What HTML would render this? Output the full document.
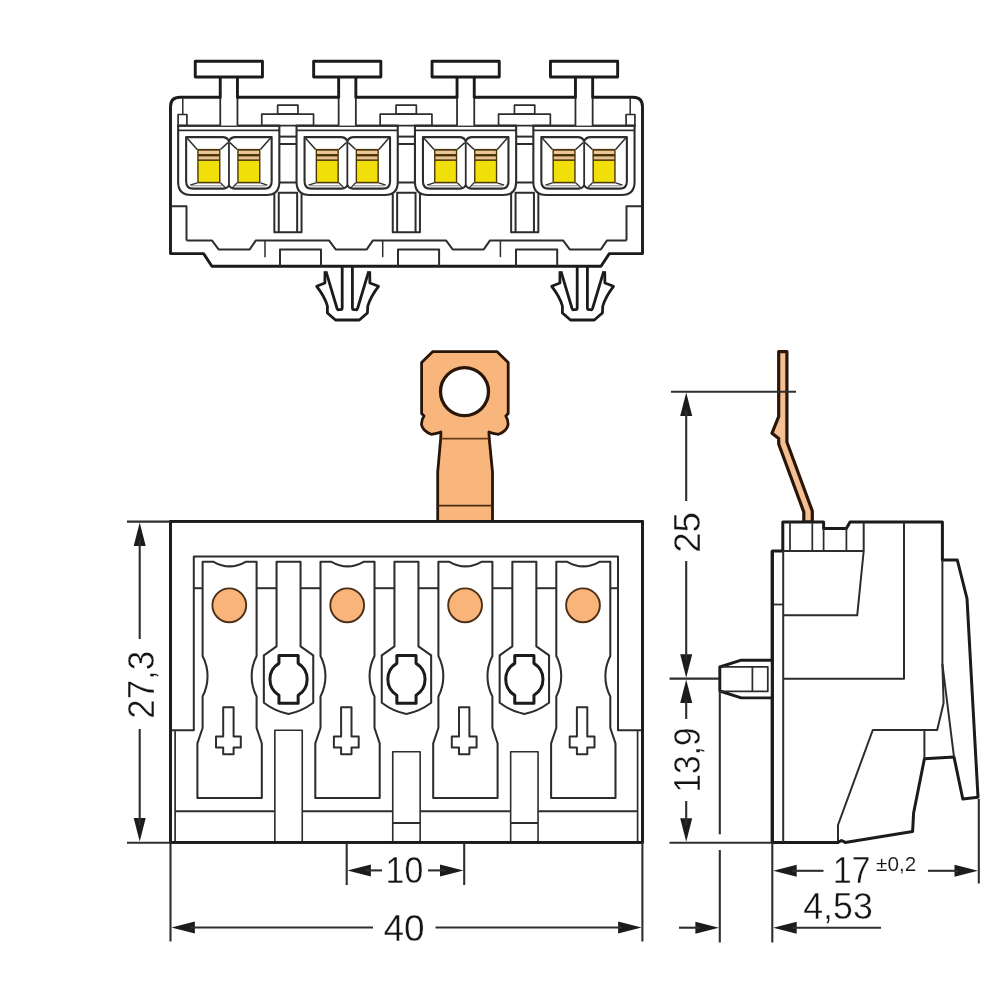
<!DOCTYPE html>
<html lang="en">
<head>
<meta charset="utf-8">
<title>Dimension drawing</title>
<style>
html,body{margin:0;padding:0;background:#fff;}
body{width:1000px;height:1000px;overflow:hidden;}
svg{display:block;}
svg text{font-family:"Liberation Sans",sans-serif;fill:#141414;paint-order:fill stroke;stroke-linejoin:round;}
svg path,svg rect,svg circle{stroke-linecap:butt;stroke-linejoin:round;}
</style>
</head>
<body>
<svg width="1000" height="1000" viewBox="0 0 1000 1000" role="img" aria-label="Dimension drawing of a 4-pole connector: 40 wide, 27,3 high, 17 ±0,2 deep">
<defs><filter id="soft" x="0" y="0" width="1000" height="1000" filterUnits="userSpaceOnUse" color-interpolation-filters="sRGB"><feGaussianBlur stdDeviation="0.45"/></filter></defs>
<rect x="0" y="0" width="1000" height="1000" fill="#ffffff" stroke="none"/>
<g filter="url(#soft)">
<rect x="0" y="0" width="1000" height="1000" fill="#ffffff" stroke="none"/>
<g id="top">
<path d="M170.5,253.6V106.8Q170.5,97.3 180,97.3H633Q642.5,97.3 642.5,106.8V253.6H609.3L601,266.3H211.9L203.6,253.6Z" fill="#fff" stroke="#1b1b1b" stroke-width="2.9"/>
<path d="M182.8,98.3L182.8,114.5" fill="none" stroke="#2d2d2d" stroke-width="1.5"/>
<rect x="178.1" y="114.5" width="8.8" height="11.2" fill="none" stroke="#2d2d2d" stroke-width="1.7"/>
<path d="M171.3,206.3L186.5,206.3L186.5,240.4" fill="none" stroke="#2d2d2d" stroke-width="2"/>
<path d="M630.2,98.3L630.2,114.5" fill="none" stroke="#2d2d2d" stroke-width="1.5"/>
<rect x="626.1" y="114.5" width="8.8" height="11.2" fill="none" stroke="#2d2d2d" stroke-width="1.7"/>
<path d="M641.7,206.3L626.5,206.3L626.5,240.4" fill="none" stroke="#2d2d2d" stroke-width="2"/>
<path d="M186.5,240.4H211.9L218.6,249.4H249.7L255.9,240.4H328.95L335.65,249.4H366.75L372.95,240.4H446L452.7,249.4H483.8L490,240.4H563.05L569.75,249.4H600.85L607.05,240.4H626.5" fill="none" stroke="#2d2d2d" stroke-width="2"/>
<path d="M265,240.4L265,257.2" fill="none" stroke="#2d2d2d" stroke-width="1.5"/>
<path d="M280,266.3L280,249.5L321,249.5L321,266.3" fill="none" stroke="#2d2d2d" stroke-width="2"/>
<path d="M274.35,189L274.35,232.3L301.55,232.3L301.55,189" fill="none" stroke="#2d2d2d" stroke-width="2"/>
<path d="M278.75,232.3L278.75,192.8L297.15,192.8L297.15,232.3" fill="none" stroke="#2d2d2d" stroke-width="2"/>
<rect x="277.65" y="105.2" width="20.3" height="9" fill="none" stroke="#2d2d2d" stroke-width="1.7"/>
<rect x="261.75" y="114.2" width="51.8" height="11.5" fill="none" stroke="#2d2d2d" stroke-width="1.7"/>
<path d="M279.45,136.6L296.45,136.6" fill="none" stroke="#2d2d2d" stroke-width="2"/>
<path d="M279.45,144L296.45,144" fill="none" stroke="#2d2d2d" stroke-width="2"/>
<path d="M279.45,182.5L296.45,182.5" fill="none" stroke="#2d2d2d" stroke-width="2"/>
<path d="M382.7,240.4L382.7,257.2" fill="none" stroke="#2d2d2d" stroke-width="1.5"/>
<path d="M398,266.3L398,249.5L439.1,249.5L439.1,266.3" fill="none" stroke="#2d2d2d" stroke-width="2"/>
<path d="M392.75,189L392.75,232.3L419.95,232.3L419.95,189" fill="none" stroke="#2d2d2d" stroke-width="2"/>
<path d="M397.15,232.3L397.15,192.8L415.55,192.8L415.55,232.3" fill="none" stroke="#2d2d2d" stroke-width="2"/>
<rect x="396.05" y="105.2" width="20.3" height="9" fill="none" stroke="#2d2d2d" stroke-width="1.7"/>
<rect x="380.15" y="114.2" width="51.8" height="11.5" fill="none" stroke="#2d2d2d" stroke-width="1.7"/>
<path d="M397.85,136.6L414.85,136.6" fill="none" stroke="#2d2d2d" stroke-width="2"/>
<path d="M397.85,144L414.85,144" fill="none" stroke="#2d2d2d" stroke-width="2"/>
<path d="M397.85,182.5L414.85,182.5" fill="none" stroke="#2d2d2d" stroke-width="2"/>
<path d="M500.4,240.4L500.4,257.2" fill="none" stroke="#2d2d2d" stroke-width="1.5"/>
<path d="M516,266.3L516,249.5L557.2,249.5L557.2,266.3" fill="none" stroke="#2d2d2d" stroke-width="2"/>
<path d="M511.15,189L511.15,232.3L538.35,232.3L538.35,189" fill="none" stroke="#2d2d2d" stroke-width="2"/>
<path d="M515.55,232.3L515.55,192.8L533.95,192.8L533.95,232.3" fill="none" stroke="#2d2d2d" stroke-width="2"/>
<rect x="514.45" y="105.2" width="20.3" height="9" fill="none" stroke="#2d2d2d" stroke-width="1.7"/>
<rect x="498.55" y="114.2" width="51.8" height="11.5" fill="none" stroke="#2d2d2d" stroke-width="1.7"/>
<path d="M516.25,136.6L533.25,136.6" fill="none" stroke="#2d2d2d" stroke-width="2"/>
<path d="M516.25,144L533.25,144" fill="none" stroke="#2d2d2d" stroke-width="2"/>
<path d="M516.25,182.5L533.25,182.5" fill="none" stroke="#2d2d2d" stroke-width="2"/>
<path d="M178.15,125.8V182Q178.15,195 191.15,195H266.35Q279.35,195 279.35,182V125.8Z" fill="#fff" stroke="#2d2d2d" stroke-width="2.1"/>
<path d="M177.25,125.8L280.25,125.8" fill="none" stroke="#2d2d2d" stroke-width="2.1"/>
<path d="M178.15,130.3L279.35,130.3" fill="none" stroke="#2d2d2d" stroke-width="1.7"/>
<path d="M228.95,141.6Q227.95,137.6 223.25,137.1H186.15V181.5Q186.15,188.6 193.25,188.6H223.25Q227.95,188.2 228.95,185" fill="none" stroke="#2d2d2d" stroke-width="2.1"/>
<path d="M228.95,141.6Q229.95,137.6 234.65,137.1H271.65V181.5Q271.65,188.6 264.55,188.6H234.65Q229.95,188.2 228.95,185" fill="none" stroke="#2d2d2d" stroke-width="2.1"/>
<path d="M228.95,141L228.95,186" fill="none" stroke="#2d2d2d" stroke-width="1.8"/>
<rect x="197.25" y="148.9" width="23.2" height="34.5" fill="#4b3608"/>
<rect x="198.65" y="160.9" width="20.4" height="20.9" fill="#f0df09"/>
<rect x="198.65" y="150.7" width="20.4" height="3.3" fill="#ebc69b"/>
<rect x="198.65" y="156.4" width="20.4" height="3" fill="#e8c194"/>
<path d="M186.95,138L197.25,149.5" fill="none" stroke="#2d2d2d" stroke-width="1.5"/>
<path d="M227.95,142.6L220.45,149.5" fill="none" stroke="#2d2d2d" stroke-width="1.5"/>
<path d="M197.25,182.8L190.15,185.2" fill="none" stroke="#2d2d2d" stroke-width="1.3"/>
<path d="M220.45,182.8L225.35,187.6" fill="none" stroke="#2d2d2d" stroke-width="1.3"/>
<path d="M191.25,185.8L222.25,185.8" fill="none" stroke="#777" stroke-width="0.9"/>
<rect x="237.25" y="148.9" width="23.2" height="34.5" fill="#4b3608"/>
<rect x="238.65" y="160.9" width="20.4" height="20.9" fill="#f0df09"/>
<rect x="238.65" y="150.7" width="20.4" height="3.3" fill="#ebc69b"/>
<rect x="238.65" y="156.4" width="20.4" height="3" fill="#e8c194"/>
<path d="M270.55,138L260.45,149.5" fill="none" stroke="#2d2d2d" stroke-width="1.5"/>
<path d="M229.95,142.6L237.25,149.5" fill="none" stroke="#2d2d2d" stroke-width="1.5"/>
<path d="M260.45,182.8L267.35,185.2" fill="none" stroke="#2d2d2d" stroke-width="1.3"/>
<path d="M237.25,182.8L232.55,187.6" fill="none" stroke="#2d2d2d" stroke-width="1.3"/>
<path d="M266.25,185.8L235.25,185.8" fill="none" stroke="#777" stroke-width="0.9"/>
<path d="M296.55,125.8V182Q296.55,195 309.55,195H384.75Q397.75,195 397.75,182V125.8Z" fill="#fff" stroke="#2d2d2d" stroke-width="2.1"/>
<path d="M295.65,125.8L398.65,125.8" fill="none" stroke="#2d2d2d" stroke-width="2.1"/>
<path d="M296.55,130.3L397.75,130.3" fill="none" stroke="#2d2d2d" stroke-width="1.7"/>
<path d="M347.35,141.6Q346.35,137.6 341.65,137.1H304.55V181.5Q304.55,188.6 311.65,188.6H341.65Q346.35,188.2 347.35,185" fill="none" stroke="#2d2d2d" stroke-width="2.1"/>
<path d="M347.35,141.6Q348.35,137.6 353.05,137.1H390.05V181.5Q390.05,188.6 382.95,188.6H353.05Q348.35,188.2 347.35,185" fill="none" stroke="#2d2d2d" stroke-width="2.1"/>
<path d="M347.35,141L347.35,186" fill="none" stroke="#2d2d2d" stroke-width="1.8"/>
<rect x="315.65" y="148.9" width="23.2" height="34.5" fill="#4b3608"/>
<rect x="317.05" y="160.9" width="20.4" height="20.9" fill="#f0df09"/>
<rect x="317.05" y="150.7" width="20.4" height="3.3" fill="#ebc69b"/>
<rect x="317.05" y="156.4" width="20.4" height="3" fill="#e8c194"/>
<path d="M305.35,138L315.65,149.5" fill="none" stroke="#2d2d2d" stroke-width="1.5"/>
<path d="M346.35,142.6L338.85,149.5" fill="none" stroke="#2d2d2d" stroke-width="1.5"/>
<path d="M315.65,182.8L308.55,185.2" fill="none" stroke="#2d2d2d" stroke-width="1.3"/>
<path d="M338.85,182.8L343.75,187.6" fill="none" stroke="#2d2d2d" stroke-width="1.3"/>
<path d="M309.65,185.8L340.65,185.8" fill="none" stroke="#777" stroke-width="0.9"/>
<rect x="355.65" y="148.9" width="23.2" height="34.5" fill="#4b3608"/>
<rect x="357.05" y="160.9" width="20.4" height="20.9" fill="#f0df09"/>
<rect x="357.05" y="150.7" width="20.4" height="3.3" fill="#ebc69b"/>
<rect x="357.05" y="156.4" width="20.4" height="3" fill="#e8c194"/>
<path d="M388.95,138L378.85,149.5" fill="none" stroke="#2d2d2d" stroke-width="1.5"/>
<path d="M348.35,142.6L355.65,149.5" fill="none" stroke="#2d2d2d" stroke-width="1.5"/>
<path d="M378.85,182.8L385.75,185.2" fill="none" stroke="#2d2d2d" stroke-width="1.3"/>
<path d="M355.65,182.8L350.95,187.6" fill="none" stroke="#2d2d2d" stroke-width="1.3"/>
<path d="M384.65,185.8L353.65,185.8" fill="none" stroke="#777" stroke-width="0.9"/>
<path d="M414.95,125.8V182Q414.95,195 427.95,195H503.15Q516.15,195 516.15,182V125.8Z" fill="#fff" stroke="#2d2d2d" stroke-width="2.1"/>
<path d="M414.05,125.8L517.05,125.8" fill="none" stroke="#2d2d2d" stroke-width="2.1"/>
<path d="M414.95,130.3L516.15,130.3" fill="none" stroke="#2d2d2d" stroke-width="1.7"/>
<path d="M465.75,141.6Q464.75,137.6 460.05,137.1H422.95V181.5Q422.95,188.6 430.05,188.6H460.05Q464.75,188.2 465.75,185" fill="none" stroke="#2d2d2d" stroke-width="2.1"/>
<path d="M465.75,141.6Q466.75,137.6 471.45,137.1H508.45V181.5Q508.45,188.6 501.35,188.6H471.45Q466.75,188.2 465.75,185" fill="none" stroke="#2d2d2d" stroke-width="2.1"/>
<path d="M465.75,141L465.75,186" fill="none" stroke="#2d2d2d" stroke-width="1.8"/>
<rect x="434.05" y="148.9" width="23.2" height="34.5" fill="#4b3608"/>
<rect x="435.45" y="160.9" width="20.4" height="20.9" fill="#f0df09"/>
<rect x="435.45" y="150.7" width="20.4" height="3.3" fill="#ebc69b"/>
<rect x="435.45" y="156.4" width="20.4" height="3" fill="#e8c194"/>
<path d="M423.75,138L434.05,149.5" fill="none" stroke="#2d2d2d" stroke-width="1.5"/>
<path d="M464.75,142.6L457.25,149.5" fill="none" stroke="#2d2d2d" stroke-width="1.5"/>
<path d="M434.05,182.8L426.95,185.2" fill="none" stroke="#2d2d2d" stroke-width="1.3"/>
<path d="M457.25,182.8L462.15,187.6" fill="none" stroke="#2d2d2d" stroke-width="1.3"/>
<path d="M428.05,185.8L459.05,185.8" fill="none" stroke="#777" stroke-width="0.9"/>
<rect x="474.05" y="148.9" width="23.2" height="34.5" fill="#4b3608"/>
<rect x="475.45" y="160.9" width="20.4" height="20.9" fill="#f0df09"/>
<rect x="475.45" y="150.7" width="20.4" height="3.3" fill="#ebc69b"/>
<rect x="475.45" y="156.4" width="20.4" height="3" fill="#e8c194"/>
<path d="M507.35,138L497.25,149.5" fill="none" stroke="#2d2d2d" stroke-width="1.5"/>
<path d="M466.75,142.6L474.05,149.5" fill="none" stroke="#2d2d2d" stroke-width="1.5"/>
<path d="M497.25,182.8L504.15,185.2" fill="none" stroke="#2d2d2d" stroke-width="1.3"/>
<path d="M474.05,182.8L469.35,187.6" fill="none" stroke="#2d2d2d" stroke-width="1.3"/>
<path d="M503.05,185.8L472.05,185.8" fill="none" stroke="#777" stroke-width="0.9"/>
<path d="M533.35,125.8V182Q533.35,195 546.35,195H621.55Q634.55,195 634.55,182V125.8Z" fill="#fff" stroke="#2d2d2d" stroke-width="2.1"/>
<path d="M532.45,125.8L635.45,125.8" fill="none" stroke="#2d2d2d" stroke-width="2.1"/>
<path d="M533.35,130.3L634.55,130.3" fill="none" stroke="#2d2d2d" stroke-width="1.7"/>
<path d="M584.15,141.6Q583.15,137.6 578.45,137.1H541.35V181.5Q541.35,188.6 548.45,188.6H578.45Q583.15,188.2 584.15,185" fill="none" stroke="#2d2d2d" stroke-width="2.1"/>
<path d="M584.15,141.6Q585.15,137.6 589.85,137.1H626.85V181.5Q626.85,188.6 619.75,188.6H589.85Q585.15,188.2 584.15,185" fill="none" stroke="#2d2d2d" stroke-width="2.1"/>
<path d="M584.15,141L584.15,186" fill="none" stroke="#2d2d2d" stroke-width="1.8"/>
<rect x="552.45" y="148.9" width="23.2" height="34.5" fill="#4b3608"/>
<rect x="553.85" y="160.9" width="20.4" height="20.9" fill="#f0df09"/>
<rect x="553.85" y="150.7" width="20.4" height="3.3" fill="#ebc69b"/>
<rect x="553.85" y="156.4" width="20.4" height="3" fill="#e8c194"/>
<path d="M542.15,138L552.45,149.5" fill="none" stroke="#2d2d2d" stroke-width="1.5"/>
<path d="M583.15,142.6L575.65,149.5" fill="none" stroke="#2d2d2d" stroke-width="1.5"/>
<path d="M552.45,182.8L545.35,185.2" fill="none" stroke="#2d2d2d" stroke-width="1.3"/>
<path d="M575.65,182.8L580.55,187.6" fill="none" stroke="#2d2d2d" stroke-width="1.3"/>
<path d="M546.45,185.8L577.45,185.8" fill="none" stroke="#777" stroke-width="0.9"/>
<rect x="592.45" y="148.9" width="23.2" height="34.5" fill="#4b3608"/>
<rect x="593.85" y="160.9" width="20.4" height="20.9" fill="#f0df09"/>
<rect x="593.85" y="150.7" width="20.4" height="3.3" fill="#ebc69b"/>
<rect x="593.85" y="156.4" width="20.4" height="3" fill="#e8c194"/>
<path d="M625.75,138L615.65,149.5" fill="none" stroke="#2d2d2d" stroke-width="1.5"/>
<path d="M585.15,142.6L592.45,149.5" fill="none" stroke="#2d2d2d" stroke-width="1.5"/>
<path d="M615.65,182.8L622.55,185.2" fill="none" stroke="#2d2d2d" stroke-width="1.3"/>
<path d="M592.45,182.8L587.75,187.6" fill="none" stroke="#2d2d2d" stroke-width="1.3"/>
<path d="M621.45,185.8L590.45,185.8" fill="none" stroke="#777" stroke-width="0.9"/>
<rect x="220.25" y="76.6" width="17.2" height="49" fill="#fff"/>
<path d="M220.25,76.6L220.25,98.4" fill="none" stroke="#1b1b1b" stroke-width="2.9"/>
<path d="M237.45,76.6L237.45,98.4" fill="none" stroke="#1b1b1b" stroke-width="2.9"/>
<path d="M220.25,98L220.25,125.8" fill="none" stroke="#2d2d2d" stroke-width="1.8"/>
<path d="M237.45,98L237.45,125.8" fill="none" stroke="#2d2d2d" stroke-width="1.8"/>
<rect x="195.25" y="61.2" width="67.2" height="15.8" fill="#fff" stroke="#1b1b1b" stroke-width="2.9"/>
<rect x="338.65" y="76.6" width="17.2" height="49" fill="#fff"/>
<path d="M338.65,76.6L338.65,98.4" fill="none" stroke="#1b1b1b" stroke-width="2.9"/>
<path d="M355.85,76.6L355.85,98.4" fill="none" stroke="#1b1b1b" stroke-width="2.9"/>
<path d="M338.65,98L338.65,125.8" fill="none" stroke="#2d2d2d" stroke-width="1.8"/>
<path d="M355.85,98L355.85,125.8" fill="none" stroke="#2d2d2d" stroke-width="1.8"/>
<rect x="313.65" y="61.2" width="67.2" height="15.8" fill="#fff" stroke="#1b1b1b" stroke-width="2.9"/>
<rect x="457.05" y="76.6" width="17.2" height="49" fill="#fff"/>
<path d="M457.05,76.6L457.05,98.4" fill="none" stroke="#1b1b1b" stroke-width="2.9"/>
<path d="M474.25,76.6L474.25,98.4" fill="none" stroke="#1b1b1b" stroke-width="2.9"/>
<path d="M457.05,98L457.05,125.8" fill="none" stroke="#2d2d2d" stroke-width="1.8"/>
<path d="M474.25,98L474.25,125.8" fill="none" stroke="#2d2d2d" stroke-width="1.8"/>
<rect x="432.05" y="61.2" width="67.2" height="15.8" fill="#fff" stroke="#1b1b1b" stroke-width="2.9"/>
<rect x="575.45" y="76.6" width="17.2" height="49" fill="#fff"/>
<path d="M575.45,76.6L575.45,98.4" fill="none" stroke="#1b1b1b" stroke-width="2.9"/>
<path d="M592.65,76.6L592.65,98.4" fill="none" stroke="#1b1b1b" stroke-width="2.9"/>
<path d="M575.45,98L575.45,125.8" fill="none" stroke="#2d2d2d" stroke-width="1.8"/>
<path d="M592.65,98L592.65,125.8" fill="none" stroke="#2d2d2d" stroke-width="1.8"/>
<rect x="550.45" y="61.2" width="67.2" height="15.8" fill="#fff" stroke="#1b1b1b" stroke-width="2.9"/>
<path d="M325,271.3L324.9,283L316.7,286.3Q325,297 327.4,306L327.4,313L335.5,320L359.3,320L367.4,313L367.8,306Q370.3,297 378.5,286.3L369.9,283L369.7,271.3" fill="none" stroke="#1b1b1b" stroke-width="2.8" stroke-linejoin="round" stroke-linecap="round"/>
<path d="M326,271.3L336.9,308Q337.7,310.3 338.9,309.6L340.8,309.6Q342.2,309.6 342.2,307.5V266.3" fill="none" stroke="#1b1b1b" stroke-width="2.8" stroke-linejoin="round" stroke-linecap="round"/>
<path d="M368.7,271.3L357.7,308Q356.9,310.3 355.7,309.6L353.8,309.6Q352.4,309.6 352.4,307.5V266.3" fill="none" stroke="#1b1b1b" stroke-width="2.8" stroke-linejoin="round" stroke-linecap="round"/>
<path d="M560,271.3L559.9,283L551.7,286.3Q560,297 562.4,306L562.4,313L570.5,320L594.3,320L602.4,313L602.8,306Q605.3,297 613.5,286.3L604.9,283L604.7,271.3" fill="none" stroke="#1b1b1b" stroke-width="2.8" stroke-linejoin="round" stroke-linecap="round"/>
<path d="M561,271.3L571.9,308Q572.7,310.3 573.9,309.6L575.8,309.6Q577.2,309.6 577.2,307.5V266.3" fill="none" stroke="#1b1b1b" stroke-width="2.8" stroke-linejoin="round" stroke-linecap="round"/>
<path d="M603.7,271.3L592.7,308Q591.9,310.3 590.7,309.6L588.8,309.6Q587.4,309.6 587.4,307.5V266.3" fill="none" stroke="#1b1b1b" stroke-width="2.8" stroke-linejoin="round" stroke-linecap="round"/>
</g>
<g id="bottom">
<path d="M432.6,351.7H497.2L508.2,362.5V413.5L505.8,416Q508.4,420 508,425Q507,431 498.6,434.3Q492.6,433.5 488.9,432L489.2,438.5L492.5,472V521.4H437.7V472L440.7,438.5L440.9,432Q437.1,433.5 431.2,434.3Q422.8,431 421.6,425Q421.2,420 424,416L421.6,413.5V362.5Z" fill="#f8b67c" stroke="#2a1609" stroke-width="2.8" stroke-linejoin="round"/>
<circle cx="464.5" cy="391.6" r="24" fill="#fff" stroke="#2a1609" stroke-width="3.3"/>
<path d="M441.1,438.7L488.6,438.7" fill="none" stroke="#6b3d1c" stroke-width="1.7"/>
<path d="M438.1,505.6L492.1,505.6" fill="none" stroke="#4a2a12" stroke-width="1.8"/>
<rect x="170.5" y="521.4" width="472" height="321" fill="#fff" stroke="#1b1b1b" stroke-width="2.7"/>
<path d="M171.3,730.3L193.8,730.3L193.8,556.5L618,556.5L618,730.3L641.7,730.3" fill="none" stroke="#2d2d2d" stroke-width="2"/>
<path d="M175.1,730.3L175.1,842.4" fill="none" stroke="#2d2d2d" stroke-width="1.7"/>
<path d="M637.6,730.3L637.6,842.4" fill="none" stroke="#2d2d2d" stroke-width="1.7"/>
<path d="M193.8,588.2L202.6,588.2" fill="none" stroke="#2d2d2d" stroke-width="2"/>
<path d="M256.6,588.2L276.55,588.2" fill="none" stroke="#2d2d2d" stroke-width="2"/>
<path d="M300.55,588.2L320.5,588.2" fill="none" stroke="#2d2d2d" stroke-width="2"/>
<path d="M374.5,588.2L394.45,588.2" fill="none" stroke="#2d2d2d" stroke-width="2"/>
<path d="M418.45,588.2L438.4,588.2" fill="none" stroke="#2d2d2d" stroke-width="2"/>
<path d="M492.4,588.2L512.35,588.2" fill="none" stroke="#2d2d2d" stroke-width="2"/>
<path d="M536.35,588.2L556.3,588.2" fill="none" stroke="#2d2d2d" stroke-width="2"/>
<path d="M610.3,588.2L618,588.2" fill="none" stroke="#2d2d2d" stroke-width="2"/>
<path d="M175.1,811.3L274.85,811.3" fill="none" stroke="#2d2d2d" stroke-width="2"/>
<path d="M302.25,811.3L392.75,811.3" fill="none" stroke="#2d2d2d" stroke-width="2"/>
<path d="M420.15,811.3L510.65,811.3" fill="none" stroke="#2d2d2d" stroke-width="2"/>
<path d="M538.05,811.3L637.6,811.3" fill="none" stroke="#2d2d2d" stroke-width="2"/>
<path d="M202.6,561.8H213.6Q229.6,571 245.6,561.8H256.6V656A44,44 0 0 0 256.6,696.5V728L261.8,743.3V798H197.4V743.3L202.6,728V696.5A44,44 0 0 0 202.6,656Z" fill="none" stroke="#2d2d2d" stroke-width="2.05"/>
<circle cx="229.3" cy="605.3" r="16.9" fill="#f9b479" stroke="#4d3018" stroke-width="1.9"/>
<path d="M223.2,707.2L233.6,707.2L233.6,736.4L240.8,736.4L240.8,747.6L233.6,747.6L233.6,754.3L223.2,754.3L223.2,747.6L216,747.6L216,736.4L223.2,736.4Z" fill="none" stroke="#2d2d2d" stroke-width="2"/>
<path d="M320.5,561.8H331.5Q347.5,571 363.5,561.8H374.5V656A44,44 0 0 0 374.5,696.5V728L379.7,743.3V798H315.3V743.3L320.5,728V696.5A44,44 0 0 0 320.5,656Z" fill="none" stroke="#2d2d2d" stroke-width="2.05"/>
<circle cx="347.2" cy="605.3" r="16.9" fill="#f9b479" stroke="#4d3018" stroke-width="1.9"/>
<path d="M341.1,707.2L351.5,707.2L351.5,736.4L358.7,736.4L358.7,747.6L351.5,747.6L351.5,754.3L341.1,754.3L341.1,747.6L333.9,747.6L333.9,736.4L341.1,736.4Z" fill="none" stroke="#2d2d2d" stroke-width="2"/>
<path d="M438.4,561.8H449.4Q465.4,571 481.4,561.8H492.4V656A44,44 0 0 0 492.4,696.5V728L497.6,743.3V798H433.2V743.3L438.4,728V696.5A44,44 0 0 0 438.4,656Z" fill="none" stroke="#2d2d2d" stroke-width="2.05"/>
<circle cx="465.1" cy="605.3" r="16.9" fill="#f9b479" stroke="#4d3018" stroke-width="1.9"/>
<path d="M459,707.2L469.4,707.2L469.4,736.4L476.6,736.4L476.6,747.6L469.4,747.6L469.4,754.3L459,754.3L459,747.6L451.8,747.6L451.8,736.4L459,736.4Z" fill="none" stroke="#2d2d2d" stroke-width="2"/>
<path d="M556.3,561.8H567.3Q583.3,571 599.3,561.8H610.3V656A44,44 0 0 0 610.3,696.5V728L615.5,743.3V798H551.1V743.3L556.3,728V696.5A44,44 0 0 0 556.3,656Z" fill="none" stroke="#2d2d2d" stroke-width="2.05"/>
<circle cx="583" cy="605.3" r="16.9" fill="#f9b479" stroke="#4d3018" stroke-width="1.9"/>
<path d="M576.9,707.2L587.3,707.2L587.3,736.4L594.5,736.4L594.5,747.6L587.3,747.6L587.3,754.3L576.9,754.3L576.9,747.6L569.7,747.6L569.7,736.4L576.9,736.4Z" fill="none" stroke="#2d2d2d" stroke-width="2"/>
<path d="M276.55,646.3V561.8H300.55V646.3L313.25,655.3V702.8Q301.55,711.6 288.55,714Q275.55,711.6 263.85,702.8V655.3Z" fill="none" stroke="#2d2d2d" stroke-width="2.05"/>
<path d="M278.95,663.37V655.6H298.15V663.37A18.6,18.6 0 0 1 298.15,695.23V703.2H278.95V695.23A18.6,18.6 0 0 1 278.95,663.37Z" fill="none" stroke="#1b1b1b" stroke-width="3"/>
<path d="M274.85,842.4L274.85,730.3L302.25,730.3L302.25,842.4" fill="#fff" stroke="#2d2d2d" stroke-width="1.6"/>
<path d="M394.45,646.3V561.8H418.45V646.3L431.15,655.3V702.8Q419.45,711.6 406.45,714Q393.45,711.6 381.75,702.8V655.3Z" fill="none" stroke="#2d2d2d" stroke-width="2.05"/>
<path d="M396.85,663.37V655.6H416.05V663.37A18.6,18.6 0 0 1 416.05,695.23V703.2H396.85V695.23A18.6,18.6 0 0 1 396.85,663.37Z" fill="none" stroke="#1b1b1b" stroke-width="3"/>
<path d="M392.75,842.4L392.75,751.7L420.15,751.7L420.15,842.4" fill="#fff" stroke="#2d2d2d" stroke-width="1.6"/>
<path d="M392.75,823L420.15,823" fill="none" stroke="#2d2d2d" stroke-width="2"/>
<path d="M512.35,646.3V561.8H536.35V646.3L549.05,655.3V702.8Q537.35,711.6 524.35,714Q511.35,711.6 499.65,702.8V655.3Z" fill="none" stroke="#2d2d2d" stroke-width="2.05"/>
<path d="M514.75,663.37V655.6H533.95V663.37A18.6,18.6 0 0 1 533.95,695.23V703.2H514.75V695.23A18.6,18.6 0 0 1 514.75,663.37Z" fill="none" stroke="#1b1b1b" stroke-width="3"/>
<path d="M510.65,842.4L510.65,751.7L538.05,751.7L538.05,842.4" fill="#fff" stroke="#2d2d2d" stroke-width="1.6"/>
<path d="M510.65,823L538.05,823" fill="none" stroke="#2d2d2d" stroke-width="2"/>
<rect x="170.5" y="521.4" width="472" height="321" fill="none" stroke="#1b1b1b" stroke-width="2.7"/>
</g>
<g id="side">
<path d="M778.7,351.6L786.9,351.6L786.9,442L812.3,511L812.3,522L803.8,522L803.8,512L778.7,444L778.7,438.5L772,433.2L778.7,416.5Z" fill="#f6bf92" stroke="#2a1609" stroke-width="3.2" stroke-linejoin="miter"/>
<path d="M772.3,842.4L772.3,551L782.8,551L782.8,522L823.6,522L823.6,528.4L846.4,528.4L850,522L942.4,522L942.4,560L957.3,560L967,598.5L978,797.2L962.8,799L954,757L924.4,758.8L913.6,813L912.6,831.5L845.2,842.4L841.5,840.5L838,842.4Z" fill="#fff" stroke="#1b1b1b" stroke-width="3" stroke-linejoin="round"/>
<path d="M783.2,551L783.2,842" fill="none" stroke="#2d2d2d" stroke-width="2"/>
<path d="M790,522L790,551" fill="none" stroke="#2d2d2d" stroke-width="1.75"/>
<path d="M812.3,522L812.3,551" fill="none" stroke="#2d2d2d" stroke-width="1.75"/>
<path d="M823.6,528L823.6,551" fill="none" stroke="#2d2d2d" stroke-width="1.75"/>
<path d="M846.4,528L846.4,551" fill="none" stroke="#2d2d2d" stroke-width="1.75"/>
<path d="M782.8,551L863.7,551" fill="none" stroke="#2d2d2d" stroke-width="2"/>
<path d="M863.7,522L863.7,551L857.2,615.3L783.2,615.3" fill="none" stroke="#2d2d2d" stroke-width="2"/>
<path d="M772.3,604.5L783.2,604.5" fill="none" stroke="#2d2d2d" stroke-width="1.75"/>
<path d="M904,522L904,678.8L783.2,678.8" fill="none" stroke="#2d2d2d" stroke-width="2"/>
<path d="M942.4,560L942.4,664L943.6,703L937.2,730L872.8,730L838,825L838,841" fill="none" stroke="#2d2d2d" stroke-width="2"/>
<path d="M942.4,664L954,757" fill="none" stroke="#2d2d2d" stroke-width="2"/>
<path d="M924.4,730L924.4,758.8" fill="none" stroke="#2d2d2d" stroke-width="2"/>
<path d="M772.3,660.2L741.2,660.2L719.8,667L719.8,691L741.2,697.9L772.3,697.9" fill="#fff" stroke="#1b1b1b" stroke-width="2.9" stroke-linejoin="round"/>
<path d="M720.5,666.8L767.8,666.8L767.8,691.4L720.5,691.4" fill="none" stroke="#2d2d2d" stroke-width="1.75"/>
<path d="M752.4,666.8L752.4,691.4" fill="none" stroke="#2d2d2d" stroke-width="1.75"/>
<path d="M772.3,551L772.3,842.4" fill="none" stroke="#1b1b1b" stroke-width="3.1"/>
</g>
<g id="dims">
<path d="M127,521.6L170,521.6" fill="none" stroke="#2e2e2e" stroke-width="2.1"/>
<path d="M127,842.7L170,842.7" fill="none" stroke="#2e2e2e" stroke-width="2.1"/>
<polygon points="139.7,522.5 133.7,546 145.7,546" fill="#1c1c1c"/>
<polygon points="139.7,841.6 133.7,818.1 145.7,818.1" fill="#1c1c1c"/>
<path d="M139.7,540L139.7,639" fill="none" stroke="#2e2e2e" stroke-width="2.1"/>
<path d="M139.7,729L139.7,825" fill="none" stroke="#2e2e2e" stroke-width="2.1"/>
<text x="-1.85" y="0" font-size="37" transform="translate(153.6,717) rotate(-90) scale(0.9408,1)" stroke="#fff" stroke-width="0.4" vector-effect="non-scaling-stroke">27,3</text>
<path d="M346.7,843L346.7,885" fill="none" stroke="#2e2e2e" stroke-width="2.1"/>
<path d="M464.2,843L464.2,885" fill="none" stroke="#2e2e2e" stroke-width="2.1"/>
<polygon points="347.4,870.4 370.9,864.4 370.9,876.4" fill="#1c1c1c"/>
<polygon points="463.5,870.4 440,864.4 440,876.4" fill="#1c1c1c"/>
<path d="M365,870.4L382,870.4" fill="none" stroke="#2e2e2e" stroke-width="2.1"/>
<path d="M428,870.4L446,870.4" fill="none" stroke="#2e2e2e" stroke-width="2.1"/>
<text x="-2.77" y="0" font-size="37" transform="translate(388.1,883.3) scale(0.9153,1)" stroke="#fff" stroke-width="0.4" vector-effect="non-scaling-stroke">10</text>
<path d="M170.5,843L170.5,941.5" fill="none" stroke="#2e2e2e" stroke-width="2.1"/>
<path d="M642.4,843L642.4,941.5" fill="none" stroke="#2e2e2e" stroke-width="2.1"/>
<polygon points="171.4,927.5 194.9,921.5 194.9,933.5" fill="#1c1c1c"/>
<polygon points="641.6,927.5 618.1,921.5 618.1,933.5" fill="#1c1c1c"/>
<path d="M190,927.5L373,927.5" fill="none" stroke="#2e2e2e" stroke-width="2.1"/>
<path d="M435.5,927.5L622,927.5" fill="none" stroke="#2e2e2e" stroke-width="2.1"/>
<text x="-0.81" y="0" font-size="37" transform="translate(384.3,941) scale(1.0003,1)" stroke="#fff" stroke-width="0.4" vector-effect="non-scaling-stroke">40</text>
<path d="M671,391.7L796,391.7" fill="none" stroke="#2e2e2e" stroke-width="2.1"/>
<path d="M669.5,678.6L719,678.6" fill="none" stroke="#2e2e2e" stroke-width="2.1"/>
<polygon points="686.2,392.6 680.2,416.1 692.2,416.1" fill="#1c1c1c"/>
<polygon points="686.2,677.8 680.2,654.3 692.2,654.3" fill="#1c1c1c"/>
<path d="M686.2,410L686.2,501" fill="none" stroke="#2e2e2e" stroke-width="2.1"/>
<path d="M686.2,561L686.2,660" fill="none" stroke="#2e2e2e" stroke-width="2.1"/>
<text x="-1.85" y="0" font-size="37" transform="translate(700.2,551) rotate(-90) scale(0.9936,1)" stroke="#fff" stroke-width="0.4" vector-effect="non-scaling-stroke">25</text>
<path d="M669.5,842.7L772,842.7" fill="none" stroke="#2e2e2e" stroke-width="2.1"/>
<polygon points="686.2,679.6 680.2,703.1 692.2,703.1" fill="#1c1c1c"/>
<polygon points="686.2,841.8 680.2,818.3 692.2,818.3" fill="#1c1c1c"/>
<path d="M686.2,700L686.2,719" fill="none" stroke="#2e2e2e" stroke-width="2.1"/>
<path d="M686.2,801L686.2,825" fill="none" stroke="#2e2e2e" stroke-width="2.1"/>
<text x="-2.77" y="0" font-size="37" transform="translate(700.2,790) rotate(-90) scale(0.9034,1)" stroke="#fff" stroke-width="0.4" vector-effect="non-scaling-stroke">13,9</text>
<path d="M719.8,691L719.8,834.3" fill="none" stroke="#2e2e2e" stroke-width="2.1"/>
<path d="M719.8,850L719.8,942.5" fill="none" stroke="#2e2e2e" stroke-width="2.1"/>
<path d="M772.3,843L772.3,942.5" fill="none" stroke="#2e2e2e" stroke-width="2.1"/>
<path d="M978.8,799L978.8,883.5" fill="none" stroke="#2e2e2e" stroke-width="2.1"/>
<polygon points="773.2,870.8 796.7,864.8 796.7,876.8" fill="#1c1c1c"/>
<polygon points="978,870.8 954.5,864.8 954.5,876.8" fill="#1c1c1c"/>
<path d="M792,870.8L823.5,870.8" fill="none" stroke="#2e2e2e" stroke-width="2.1"/>
<path d="M928,870.8L958,870.8" fill="none" stroke="#2e2e2e" stroke-width="2.1"/>
<text x="-2.77" y="0" font-size="37" transform="translate(835.2,883.1) scale(0.9219,1)" stroke="#fff" stroke-width="0.4" vector-effect="non-scaling-stroke">17</text>
<text x="-0.67" y="0" font-size="20.3" transform="translate(876.8,871) scale(1.0203,1)" stroke="#fff" stroke-width="0.15" vector-effect="non-scaling-stroke">±0,2</text>
<polygon points="718.9,927.7 695.4,921.7 695.4,933.7" fill="#1c1c1c"/>
<polygon points="773.2,927.7 796.7,921.7 796.7,933.7" fill="#1c1c1c"/>
<path d="M679,927.7L700,927.7" fill="none" stroke="#2e2e2e" stroke-width="2.1"/>
<path d="M792,927.7L881,927.7" fill="none" stroke="#2e2e2e" stroke-width="2.1"/>
<text x="-0.81" y="0" font-size="37" transform="translate(804,919.4) scale(0.9656,1)" stroke="#fff" stroke-width="0.4" vector-effect="non-scaling-stroke">4,53</text>
</g>
</g>
</svg>
</body>
</html>
